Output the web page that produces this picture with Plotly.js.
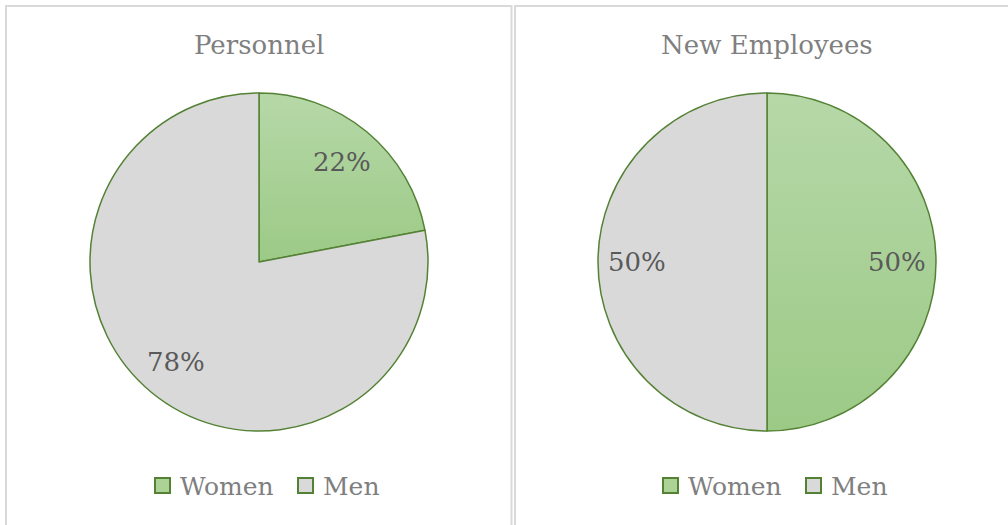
<!DOCTYPE html>
<html><head><meta charset="utf-8">
<script src="https://cdn.plot.ly/plotly-3.0.1.min.js"></script>
<style>html,body{margin:0;padding:0;background:#fff}#chart{width:1008px;height:525px}</style>
</head><body><div id="chart"></div>
<script>
const categories = ['Women', 'Men'];
const chartTitles = ['Personnel', 'New Employees'];
const personnelValues = [22, 78];
const newEmployeeValues = [50, 50];
const sliceColors = ['#a9d18e', '#d9d9d9'];

const W = 1008, H = 525;
const FONT = '"DejaVu Serif", serif';
const panels = [
  {title: chartTitles[0], values: personnelValues, cx: 259, cy: 262, r: 169, x0: 6, x1: 511.5},
  {title: chartTitles[1], values: newEmployeeValues, cx: 767, cy: 262, r: 169, x0: 515, x1: 1012}
];
const px = v => v / W;
const py = v => 1 - v / H;

const data = [], annotations = [], shapes = [];
const layout = {
  width: W, height: H, margin: {l: 0, r: 0, t: 0, b: 0},
  paper_bgcolor: '#fff', plot_bgcolor: '#fff', showlegend: false,
  font: {family: FONT, color: '#7f7f7f'}
};
// legend item offsets relative to pie centre: [square left, text left]
const legendOffsets = [[-105, -81], [38, 62]];
panels.forEach((p, i) => {
  data.push({
    type: 'pie', labels: categories, values: p.values, sort: false,
    direction: 'clockwise', rotation: 0, textinfo: 'none', hoverinfo: 'label+percent',
    marker: {colors: sliceColors, line: {color: '#548235', width: 1.5}},
    domain: {x: [px(p.cx - p.r), px(p.cx + p.r)], y: [py(p.cy + p.r), py(p.cy - p.r)]},
    showlegend: false, name: p.title
  });
  annotations.push({
    xref: 'paper', yref: 'paper', x: px(p.cx), y: py(45), text: p.title, showarrow: false,
    xanchor: 'center', yanchor: 'middle', font: {family: FONT, size: 26, color: '#7f7f7f'}
  });
  const total = p.values.reduce((a, b) => a + b, 0);
  let start = 0;
  p.values.forEach(v => {
    const mid = (start + v / 2) / total * 2 * Math.PI;
    start += v;
    const k = 0.77;
    const lx = p.cx + k * p.r * Math.sin(mid);
    const ly = p.cy - k * p.r * Math.cos(mid);
    annotations.push({
      xref: 'paper', yref: 'paper', x: px(lx), y: py(ly),
      text: Math.round(100 * v / total) + '%', showarrow: false,
      xanchor: 'center', yanchor: 'middle', font: {family: FONT, size: 26, color: '#595959'}
    });
  });
  // manual legend (pie legends with identical labels would merge)
  categories.forEach((c, j) => {
    const [sq, tx] = legendOffsets[j];
    shapes.push({
      type: 'rect', xref: 'paper', yref: 'paper',
      x0: px(p.cx + sq + 1), x1: px(p.cx + sq + 16), y0: py(493), y1: py(478),
      line: {color: '#548235', width: 2}, fillcolor: j === 0 ? '#acd295' : sliceColors[j]
    });
    annotations.push({
      xref: 'paper', yref: 'paper', x: px(p.cx + tx), y: py(486), text: c, showarrow: false,
      xanchor: 'left', yanchor: 'middle', font: {family: FONT, size: 25, color: '#7f7f7f'}
    });
  });
  shapes.push({
    type: 'rect', xref: 'paper', yref: 'paper', x0: px(p.x0), x1: px(p.x1), y0: py(540), y1: py(6),
    line: {color: '#d9d9d9', width: 2}, fillcolor: 'rgba(0,0,0,0)', layer: 'below'
  });
});
layout.annotations = annotations;
layout.shapes = shapes;
Plotly.newPlot('chart', data, layout, {displayModeBar: false, staticPlot: true}).then(gd => {
  // Excel-like vertical gradient on the green slices
  const svg = gd.querySelector('.main-svg');
  const ns = 'http://www.w3.org/2000/svg';
  let defs = svg.querySelector('defs');
  if (!defs) { defs = document.createElementNS(ns, 'defs'); svg.insertBefore(defs, svg.firstChild); }
  const g = document.createElementNS(ns, 'linearGradient');
  g.setAttribute('id', 'greenGrad');
  g.setAttribute('x1', '0'); g.setAttribute('y1', '0'); g.setAttribute('x2', '0'); g.setAttribute('y2', '1');
  [['0', '#b6d8a8'], ['1', '#9cca86']].forEach(([o, c]) => {
    const s = document.createElementNS(ns, 'stop');
    s.setAttribute('offset', o); s.setAttribute('stop-color', c);
    g.appendChild(s);
  });
  defs.appendChild(g);
  gd.querySelectorAll('.slice path.surface').forEach(path => {
    const f = path.style.fill || '';
    if (f.indexOf('169, 209, 142') >= 0 || f.toLowerCase() === '#a9d18e') path.style.fill = 'url(#greenGrad)';
  });
});
</script>
</body></html>
